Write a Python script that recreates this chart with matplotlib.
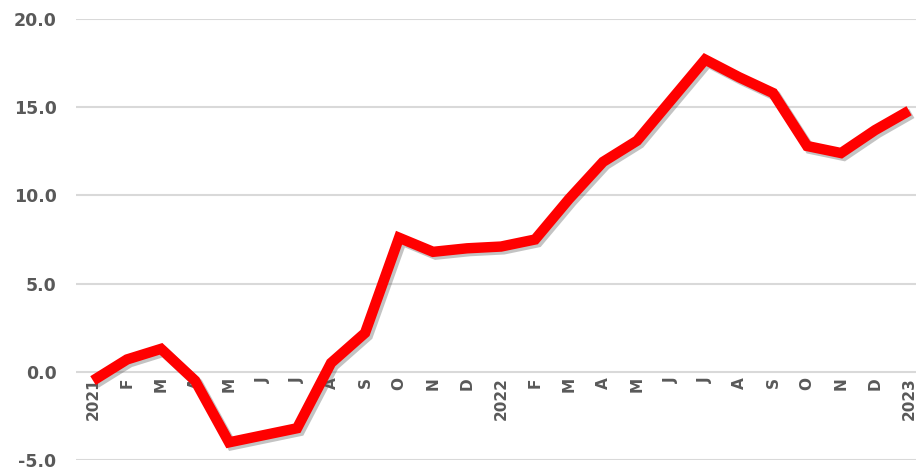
import matplotlib
matplotlib.use("Agg")
import matplotlib.pyplot as plt
import matplotlib.patheffects as pe

# -------- DATA --------
months = ["2021", "F", "M", "A", "M", "J", "J", "A", "S", "O", "N", "D",
          "2022", "F", "M", "A", "M", "J", "J", "A", "S", "O", "N", "D",
          "2023"]
values = [-0.5, 0.7, 1.3, -0.5, -4.0, -3.6, -3.2, 0.5, 2.2, 7.6, 6.8, 7.0,
          7.1, 7.5, 9.8, 11.9, 13.1, 15.4, 17.7, 16.7, 15.8, 12.8, 12.4, 13.7,
          14.8]
y_ticks = [-5, 0, 5, 10, 15, 20]

plt.rcParams["font.family"] = ["DejaVu Sans"]

fig = plt.figure(figsize=(9.16, 4.70), dpi=100)
ax = fig.add_axes([0.083, 0.0213, 0.928, 0.9383])

# x axis crosses at zero (do this before styling the tick labels)
ax.spines["bottom"].set_position(("data", 0))
for side in ["top", "right", "left", "bottom"]:
    ax.spines[side].set_visible(False)

x = range(len(values))
ax.plot(x, values, color="#ff0000", linewidth=7.5, solid_joinstyle="miter",
        solid_capstyle="butt",
        path_effects=[pe.SimpleLineShadow(offset=(2, -2), shadow_color="#555555", alpha=0.35),
                      pe.Normal()],
        zorder=3)

ax.set_xlim(-0.5, len(values) - 0.5)
ax.set_ylim(-5, 20)
ax.set_yticks(y_ticks)
ax.set_yticklabels([f"{v:.1f}" for v in y_ticks], fontsize=12.5, fontweight="bold",
                   color="#595959")
ax.set_xticks(list(x))
ax.set_xticklabels(months, rotation=90, fontsize=11, fontweight="bold",
                   color="#595959", va="top", ha="center")

ax.grid(axis="y", color="#d9d9d9", linewidth=1.5, zorder=0)
ax.set_axisbelow(True)

ax.tick_params(axis="both", length=0)
ax.tick_params(axis="y", pad=14)
ax.tick_params(axis="x", pad=4)

fig.savefig("out.png", dpi=100)
